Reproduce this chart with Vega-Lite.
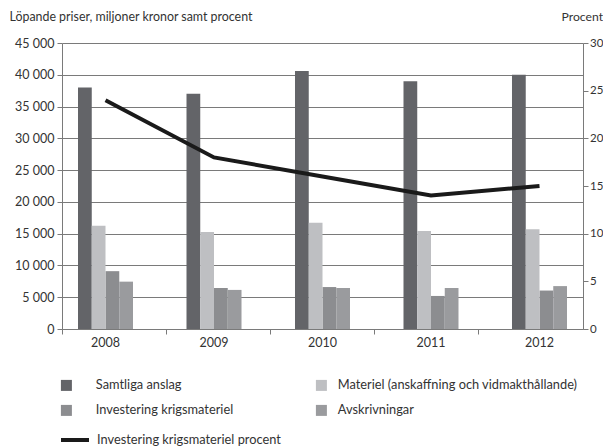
{
  "$schema": "https://vega.github.io/schema/vega-lite/v6.json",
  "width": 521,
  "height": 286,
  "autosize": {"type": "none"},
  "padding": {"left": 62, "top": 43, "right": 20, "bottom": 119},
  "background": "white",
  "config": {
    "font": "Lato",
    "view": {"stroke": null},
    "axis": {"labelColor": "#333333", "titleColor": "#333333", "labelFont": "Lato", "titleFont": "Lato"},
    "legend": {"labelColor": "#333333", "labelFont": "Lato"}
  },
  "datasets": {
    "bars": [
      {"year": "2008", "series": "Samtliga anslag", "value": 38000},
      {"year": "2008", "series": "Materiel (anskaffning och vidmakthållande)", "value": 16250},
      {"year": "2008", "series": "Investering krigsmateriel", "value": 9100},
      {"year": "2008", "series": "Avskrivningar", "value": 7450},
      {"year": "2009", "series": "Samtliga anslag", "value": 37000},
      {"year": "2009", "series": "Materiel (anskaffning och vidmakthållande)", "value": 15250},
      {"year": "2009", "series": "Investering krigsmateriel", "value": 6450},
      {"year": "2009", "series": "Avskrivningar", "value": 6150},
      {"year": "2010", "series": "Samtliga anslag", "value": 40600},
      {"year": "2010", "series": "Materiel (anskaffning och vidmakthållande)", "value": 16700},
      {"year": "2010", "series": "Investering krigsmateriel", "value": 6600},
      {"year": "2010", "series": "Avskrivningar", "value": 6450},
      {"year": "2011", "series": "Samtliga anslag", "value": 39000},
      {"year": "2011", "series": "Materiel (anskaffning och vidmakthållande)", "value": 15400},
      {"year": "2011", "series": "Investering krigsmateriel", "value": 5200},
      {"year": "2011", "series": "Avskrivningar", "value": 6450},
      {"year": "2012", "series": "Samtliga anslag", "value": 40000},
      {"year": "2012", "series": "Materiel (anskaffning och vidmakthållande)", "value": 15700},
      {"year": "2012", "series": "Investering krigsmateriel", "value": 6050},
      {"year": "2012", "series": "Avskrivningar", "value": 6750}
    ],
    "line": [
      {"year": "2008", "series": "Investering krigsmateriel procent", "pct": 24},
      {"year": "2009", "series": "Investering krigsmateriel procent", "pct": 18},
      {"year": "2010", "series": "Investering krigsmateriel procent", "pct": 16},
      {"year": "2011", "series": "Investering krigsmateriel procent", "pct": 14},
      {"year": "2012", "series": "Investering krigsmateriel procent", "pct": 15}
    ]
  },
  "layer": [
    {
      "layer": [
        {
          "layer": [
            {
              "data": {"name": "bars"},
              "transform": [{"filter": "datum.series === 'Samtliga anslag' || datum.series === 'Investering krigsmateriel'"}],
              "mark": {"type": "bar"},
              "encoding": {
                "x": {"field": "year", "type": "nominal", "scale": {"type": "band", "paddingInner": 0.493, "paddingOuter": 0.1475},
                  "axis": {"orient": "bottom", "title": null, "ticks": false, "domain": true, "domainColor": "#7a7a7a", "labelPadding": 7, "labelAngle": 0, "labelFontSize": 12.5, "grid": false}},
                "xOffset": {"field": "series", "type": "nominal", "scale": {"domain": ["Samtliga anslag", "Materiel (anskaffning och vidmakthållande)", "Investering krigsmateriel", "Avskrivningar"], "paddingInner": 0, "paddingOuter": 0}},
                "y": {"field": "value", "type": "quantitative", "scale": {"domain": [0, 45000], "nice": false},
                  "axis": {"title": "Löpande priser, miljoner kronor samt procent", "titleAngle": 0, "titleAlign": "left", "titleBaseline": "middle", "titleX": -53, "titleY": -27, "titleFontWeight": "normal", "titleFontSize": 12.4,
                    "values": [0, 5000, 10000, 15000, 20000, 25000, 30000, 35000, 40000, 45000], "labelExpr": "replace(format(datum.value, ','), ',', ' ')",
                    "grid": true, "gridColor": "#7a7a7a", "gridWidth": 1.2, "tickSize": 5, "tickColor": "#7a7a7a", "domainColor": "#7a7a7a", "labelPadding": 3, "labelFontSize": 12.5}},
                "fill": {"field": "series", "type": "nominal", "scale": {"domain": ["Samtliga anslag", "Investering krigsmateriel"], "range": ["#636468", "#8c8d90"]},
                  "legend": {"orient": "none", "legendX": -2, "legendY": 336, "direction": "vertical", "title": null, "symbolType": "square", "symbolSize": 121, "symbolStrokeWidth": 0, "labelFontSize": 12.8, "labelOffset": 23, "rowPadding": 11, "padding": 0, "labelLimit": 500}}
              }
            },
            {
              "data": {"name": "bars"},
              "transform": [{"filter": "datum.series === 'Materiel (anskaffning och vidmakthållande)' || datum.series === 'Avskrivningar'"}],
              "mark": {"type": "bar"},
              "encoding": {
                "x": {"field": "year", "type": "nominal", "scale": {"type": "band", "paddingInner": 0.493, "paddingOuter": 0.1475},
                  "axis": {"orient": "bottom", "title": null, "ticks": false, "domain": true, "domainColor": "#7a7a7a", "labelPadding": 7, "labelAngle": 0, "labelFontSize": 12.5, "grid": false}},
                "xOffset": {"field": "series", "type": "nominal", "scale": {"domain": ["Samtliga anslag", "Materiel (anskaffning och vidmakthållande)", "Investering krigsmateriel", "Avskrivningar"], "paddingInner": 0, "paddingOuter": 0}},
                "y": {"field": "value", "type": "quantitative", "scale": {"domain": [0, 45000], "nice": false},
                  "axis": {"title": "Löpande priser, miljoner kronor samt procent", "titleAngle": 0, "titleAlign": "left", "titleBaseline": "middle", "titleX": -53, "titleY": -27, "titleFontWeight": "normal", "titleFontSize": 12.4,
                    "values": [0, 5000, 10000, 15000, 20000, 25000, 30000, 35000, 40000, 45000], "labelExpr": "replace(format(datum.value, ','), ',', ' ')",
                    "grid": true, "gridColor": "#7a7a7a", "gridWidth": 1.2, "tickSize": 5, "tickColor": "#7a7a7a", "domainColor": "#7a7a7a", "labelPadding": 3, "labelFontSize": 12.5}},
                "color": {"field": "series", "type": "nominal", "scale": {"domain": ["Materiel (anskaffning och vidmakthållande)", "Avskrivningar"], "range": ["#bebfc2", "#9a9b9e"]},
                  "legend": {"orient": "none", "legendX": 253, "legendY": 336, "direction": "vertical", "title": null, "symbolType": "square", "symbolSize": 121, "symbolStrokeWidth": 0, "labelFontSize": 12.8, "labelOffset": 10, "rowPadding": 11, "padding": 0, "labelLimit": 500}}
              }
            }
          ]
        },
        {
          "data": {"name": "line"},
          "mark": {"type": "line", "strokeWidth": 4, "strokeCap": "butt", "strokeJoin": "miter"},
          "encoding": {
            "x": {"field": "year", "type": "nominal", "scale": {"type": "band", "paddingInner": 0.493, "paddingOuter": 0.1475},
              "axis": {"orient": "bottom", "title": null, "ticks": false, "domain": true, "domainColor": "#7a7a7a", "labelPadding": 7, "labelAngle": 0, "labelFontSize": 12.5, "grid": false}},
            "y": {"field": "pct", "type": "quantitative", "scale": {"domain": [0, 30], "nice": false},
              "axis": {"orient": "right", "title": "Procent", "titleAngle": 0, "titleAlign": "left", "titleBaseline": "middle", "titleX": -22, "titleY": -27, "titleFontWeight": "normal", "titleFontSize": 12.2,
                "values": [0, 5, 10, 15, 20, 25, 30], "grid": false, "tickSize": 5, "tickColor": "#7a7a7a", "domainColor": "#7a7a7a", "labelPadding": 1.5, "labelFontSize": 11.5}},
            "stroke": {"field": "series", "type": "nominal", "scale": {"range": ["#1a1a1a"]},
              "legend": {"orient": "none", "legendX": -3, "legendY": 381, "direction": "vertical", "title": null, "symbolType": "stroke", "symbolSize": 784, "symbolStrokeWidth": 4, "labelFontSize": 12.8, "labelOffset": 6, "padding": 0, "labelLimit": 500}}
          }
        }
      ],
      "resolve": {"scale": {"y": "independent"}}
    },
    {
      "data": {"name": "line"},
      "mark": {"type": "rule", "strokeOpacity": 0},
      "encoding": {
        "x": {"field": "year", "type": "nominal", "scale": {"type": "band", "paddingInner": 0, "paddingOuter": 0},
          "axis": {"orient": "bottom", "title": null, "labels": false, "domain": false, "ticks": true, "tickSize": 5, "tickColor": "#7a7a7a", "bandPosition": 0, "grid": false}}
      }
    }
  ],
  "resolve": {"scale": {"x": "independent"}}
}
